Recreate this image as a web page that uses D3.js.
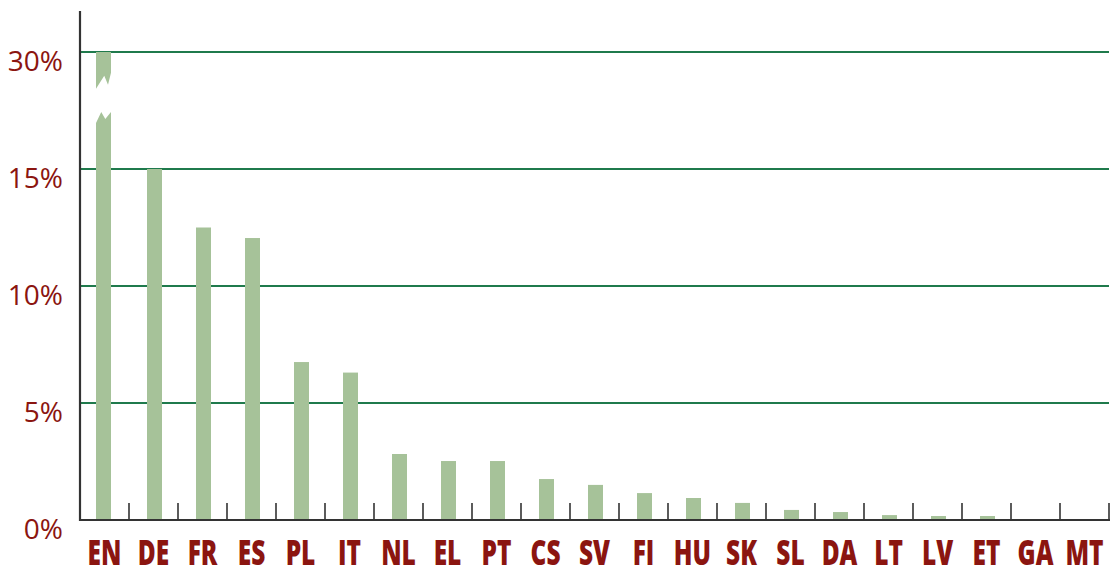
<!DOCTYPE html>
<html>
<head>
<meta charset="utf-8">
<script src="https://cdn.jsdelivr.net/npm/d3@7"></script>
<style>
  body { margin: 0; background: #fff; }
  .tickLabel { font-family: "Open Sans", sans-serif; font-size: 28px; fill: #8b1510; }
  .catLabel { font-family: "Open Sans", sans-serif; font-weight: 800; font-size: 36px; fill: #8b1510; }
</style>
</head>
<body>
<div id="chart"></div>
<script>
// languages and their share (%)
var languages = ["EN","DE","FR","ES","PL","IT","NL","EL","PT","CS","SV","FI","HU","SK","SL","DA","LT","LV","ET","GA","MT"];
var shares = [30, 15, 12.5, 12.05, 6.75, 6.3, 2.82, 2.52, 2.52, 1.75, 1.5, 1.15, 0.94, 0.73, 0.43, 0.34, 0.21, 0.17, 0.17, 0, 0];
var yTicks = [0, 5, 10, 15, 30];
var yTickLabels = ["0%", "5%", "10%", "15%", "30%"];

var width = 1113, height = 575;
var margin = { left: 80, right: 4, top: 11, bottom: 55 };
var plotBottom = height - margin.bottom;

var svg = d3.select("#chart").append("svg")
    .attr("width", width)
    .attr("height", height);

// x: one band per language
var x = d3.scaleBand()
    .domain(languages)
    .range([margin.left, width - margin.right]);

// y: broken axis, 15..30 squeezed into one grid step
var y = d3.scaleLinear()
    .domain([0, 15, 30])
    .range([plotBottom, 169, 52]);

// grid lines
svg.append("g").selectAll("line")
    .data(yTicks.filter(function(d) { return d > 0; }))
    .enter().append("line")
    .attr("x1", margin.left)
    .attr("x2", width - margin.right)
    .attr("y1", function(d) { return y(d); })
    .attr("y2", function(d) { return y(d); })
    .attr("stroke", "#1f7a4c")
    .attr("stroke-width", 2);

// tick labels
svg.append("g").selectAll("text")
    .data(yTicks)
    .enter().append("text")
    .attr("class", "tickLabel")
    .attr("x", 63)
    .attr("y", function(d) { return y(d) + 19; })
    .attr("text-anchor", "end")
    .text(function(d, i) { return yTickLabels[i]; });

var bw = 15;
var bars = languages.map(function(l, i) { return { lang: l, v: shares[i] }; });

// normal bars
svg.append("g").selectAll("rect")
    .data(bars.filter(function(d) { return d.v > 0 && d.v <= 15; }))
    .enter().append("rect")
    .attr("x", function(d) { return x(d.lang) + x.bandwidth() / 2 - bw / 2 + 1; })
    .attr("y", function(d) { return y(d.v); })
    .attr("width", bw)
    .attr("height", function(d) { return plotBottom - y(d.v); })
    .attr("fill", "#a6c299");

// broken bar(s) above 15%
bars.filter(function(d) { return d.v > 15; }).forEach(function(d) {
  var x0 = x(d.lang) + x.bandwidth() / 2 - bw / 2 - 1, x1 = x0 + bw;
  var top = y(d.v);
  var upB = y(25.3), lowT = y(22.3);
  var up = d3.path();
  up.moveTo(x0, top); up.lineTo(x1, top); up.lineTo(x1, upB - 16);
  up.lineTo(x0 + bw * 0.8, upB - 4); up.lineTo(x0 + bw * 0.55, upB - 13);
  up.lineTo(x0, upB); up.closePath();
  var low = d3.path();
  low.moveTo(x0, plotBottom); low.lineTo(x0, lowT + 11);
  low.lineTo(x0 + bw * 0.35, lowT); low.lineTo(x0 + bw * 0.62, lowT + 7);
  low.lineTo(x1, lowT); low.lineTo(x1, plotBottom); low.closePath();
  svg.append("path").attr("d", up.toString()).attr("fill", "#a6c299");
  svg.append("path").attr("d", low.toString()).attr("fill", "#a6c299");
});

// category ticks on baseline
var bounds = languages.slice(1).map(function(l) { return x(l); }).concat([x.range()[1]]);
svg.append("g").selectAll("line")
    .data(bounds)
    .enter().append("line")
    .attr("x1", function(d) { return d; })
    .attr("x2", function(d) { return d; })
    .attr("y1", plotBottom - 17)
    .attr("y2", plotBottom)
    .attr("stroke", "#333")
    .attr("stroke-width", 1.6);

// baseline and y axis line
svg.append("line")
    .attr("x1", margin.left - 1).attr("x2", x.range()[1] + 1)
    .attr("y1", plotBottom).attr("y2", plotBottom)
    .attr("stroke", "#333").attr("stroke-width", 2.2);
svg.append("line")
    .attr("x1", margin.left).attr("x2", margin.left)
    .attr("y1", margin.top).attr("y2", plotBottom + 1)
    .attr("stroke", "#333").attr("stroke-width", 2.2);

// category labels
svg.append("g").selectAll("text")
    .data(languages)
    .enter().append("text")
    .attr("class", "catLabel")
    .attr("text-anchor", "middle")
    .attr("transform", function(d) { return "translate(" + (x(d) + x.bandwidth() / 2) + "," + 565 + ") scale(0.68,1)"; })
    .text(function(d) { return d; });
</script>
</body>
</html>
